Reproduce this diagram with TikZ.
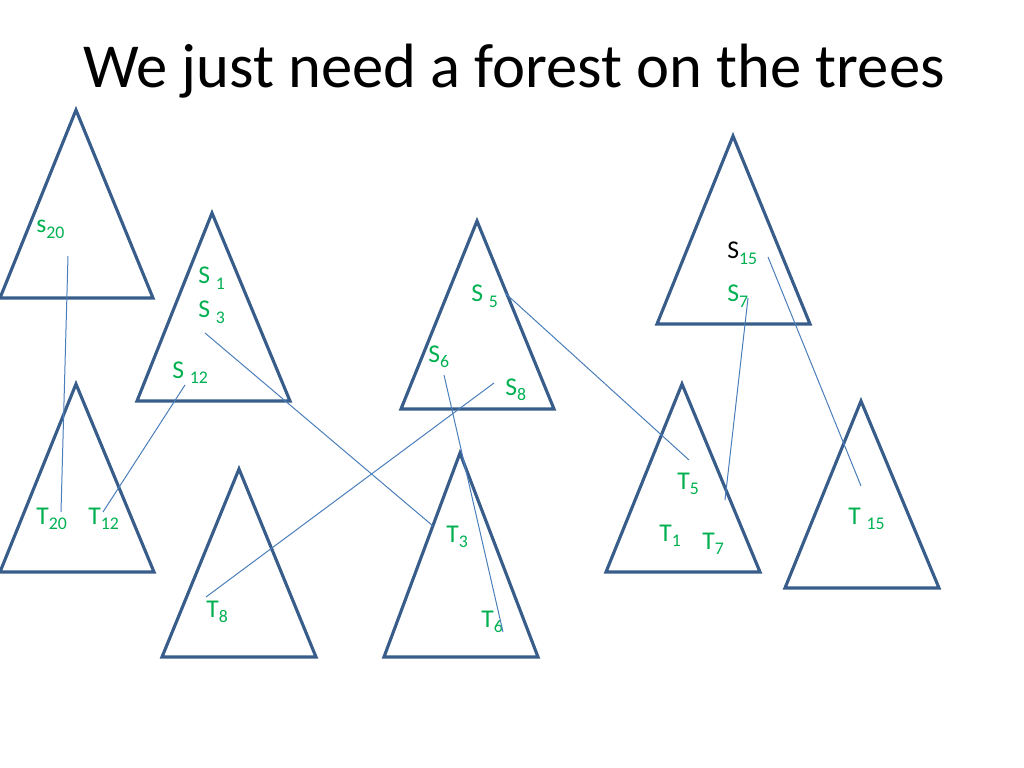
\documentclass[tikz,border=0pt]{standalone}
\usepackage{fontspec}
\setmainfont{Carlito}
\usepackage{tikz}

\definecolor{treeblue}{HTML}{385D8A}
\definecolor{linkblue}{HTML}{4A7EBB}
\definecolor{labelgreen}{HTML}{00B050}
\newcommand{\lsub}[1]{\raisebox{-4pt}{\fontsize{12.5}{14}\selectfont #1}}

\tikzset{
  tree/.style={draw=treeblue,line width=2.2pt,line join=miter},
  link/.style={draw=linkblue,line width=0.7pt},
  lbl/.style={text=labelgreen,font=\fontsize{18}{20}\selectfont,inner sep=0pt,anchor=base west}
}

\begin{document}
\begin{tikzpicture}[x=0.703125pt,y=-0.703125pt]
      \useasboundingbox (0,0) rectangle (1024,768);
      \node[inner sep=0pt,anchor=base west,font=\fontsize{44}{50}\selectfont] (title) at (83,88) {We just need a forest on the trees};

      % trees of S
      \draw[tree] (76,110) -- (153,298) -- (0,298) -- cycle;
      \draw[tree] (212,213) -- (290,401) -- (137,401) -- cycle;
      \draw[tree] (477,221) -- (554,409) -- (401,409) -- cycle;
      \draw[tree] (733,136) -- (810,324) -- (657,324) -- cycle;
      % trees of T
      \draw[tree] (76,384) -- (154,572) -- (0,572) -- cycle;
      \draw[tree] (239,469) -- (316,657) -- (162,657) -- cycle;
      \draw[tree] (460,453) -- (538,657) -- (384,657) -- cycle;
      \draw[tree] (682,384) -- (760,572) -- (606,572) -- cycle;
      \draw[tree] (861,401) -- (939,588) -- (785,588) -- cycle;

      \node[lbl] (s20) at (36,233) {s\lsub{20}};
      \node[lbl] (s1) at (198,284) {S \lsub{1}};
      \node[lbl] (s3) at (198,318) {S \lsub{3}};
      \node[lbl] (s12) at (172,378) {S \lsub{12}};
      \node[lbl] (s5) at (471,302) {S \lsub{5}};
      \node[lbl] (s6) at (428,362) {S\lsub{6}};
      \node[lbl] (s8) at (505,395) {S\lsub{8}};
      \node[lbl] (s15) at (727,259) {\textcolor{black}{S}\lsub{15}};
      \node[lbl] (s7) at (727,302) {S\lsub{7}};

      \node[lbl] (t20) at (36,524) {T\lsub{20}};
      \node[lbl] (t12) at (88,524) {T\lsub{12}};
      \node[lbl] (t8) at (206,617) {T\lsub{8}};
      \node[lbl] (t3) at (446,542) {T\lsub{3}};
      \node[lbl] (t6) at (481,627) {T\lsub{6}};
      \node[lbl] (t5) at (677,489) {T\lsub{5}};
      \node[lbl] (t1) at (659,541) {T\lsub{1}};
      \node[lbl] (t7) at (702,549) {T\lsub{7}};
      \node[lbl] (t15) at (848,524) {T \lsub{15}};

      % ends of the links
      \coordinate (s20e) at (68,256);  \coordinate (t20e) at (61,512);
      \coordinate (s12e) at (185,385); \coordinate (t12e) at (103,512);
      \coordinate (s3e) at (205,333);  \coordinate (t3e) at (433,526);
      \coordinate (s5e) at (505,293);  \coordinate (t5e) at (689,460);
      \coordinate (s6e) at (444,375);  \coordinate (t6e) at (503,632);
      \coordinate (s8e) at (494,383);  \coordinate (t8e) at (206,597);
      \coordinate (s7e) at (748,298);  \coordinate (t7e) at (725,500);
      \coordinate (s15e) at (768,257); \coordinate (t15e) at (861,486);

      \draw[link] (s20e) -- (t20e);
      \draw[link] (s12e) -- (t12e);
      \draw[link] (s3e) -- (t3e);
      \draw[link] (s5e) -- (t5e);
      \draw[link] (s6e) -- (t6e);
      \draw[link] (s8e) -- (t8e);
      \draw[link] (s7e) -- (t7e);
      \draw[link] (s15e) -- (t15e);
    \end{tikzpicture}
\end{document}
